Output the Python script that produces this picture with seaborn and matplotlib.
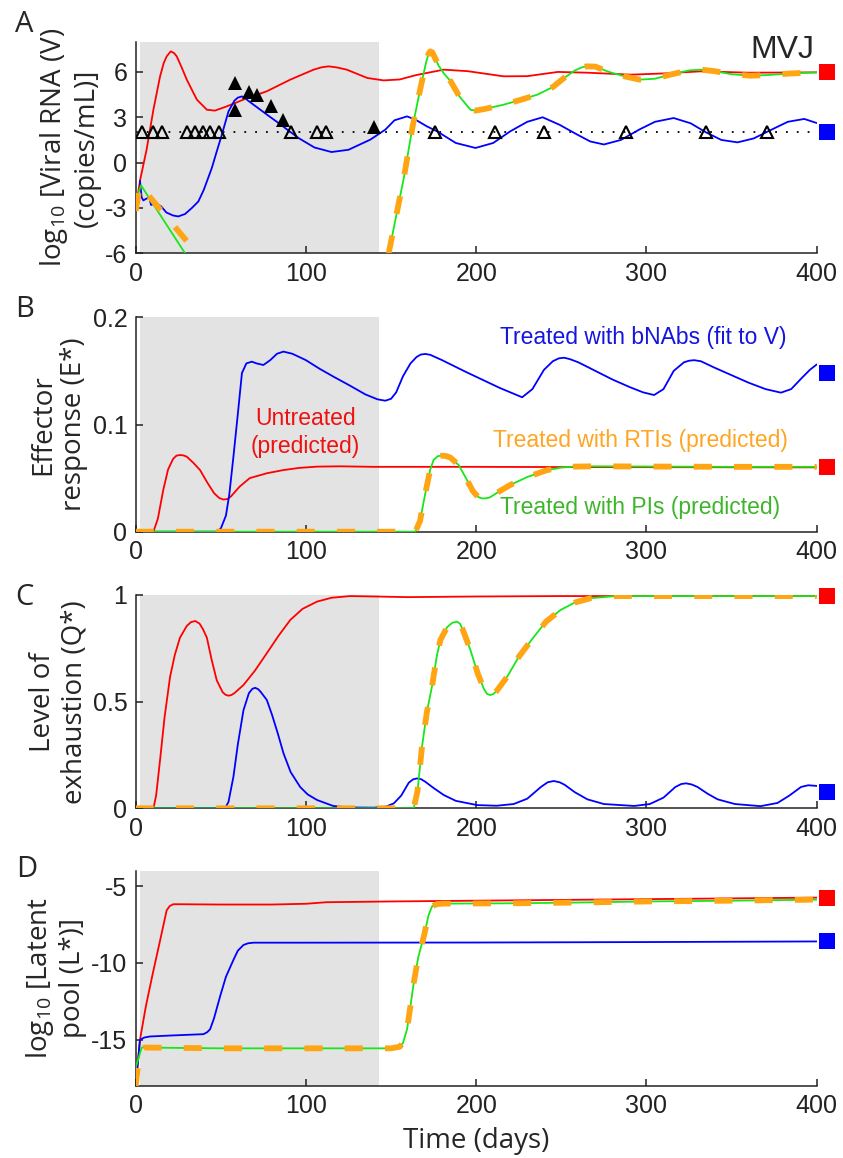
import numpy as np
import pandas as pd
import matplotlib
matplotlib.use("Agg")
import matplotlib.pyplot as plt
import seaborn as sns

# ---------------- data ----------------
# Panel A: log10 viral RNA
a_red_t = [0, 2.5, 6.4, 10.4, 14.3, 16.5, 18.2, 20.6, 22.5, 24.1, 27, 30, 35.9, 41.8, 46.5, 53.5,
           63.3, 77, 90.8, 104.5, 109, 113.3, 118, 124, 136, 145.6, 155, 165, 181, 195, 216, 230,
           248, 265, 291, 310, 332, 360, 400]
a_red_v = [-3.1, -1.2, 0.86, 3.5, 5.7, 6.6, 7.03, 7.36, 7.25, 7.03, 6.3, 5.49, 4.17, 3.5, 3.44, 3.72,
           4.17, 4.72, 5.49, 6.15, 6.3, 6.37, 6.3, 6.15, 5.6, 5.44, 5.5, 5.8, 6.15, 6.05, 5.71, 5.72,
           6.0, 5.95, 5.82, 5.9, 6.04, 5.95, 5.97]

a_blue_t = [2.5, 3.5, 4.5, 6, 8, 9, 12, 15, 18, 22, 25, 29, 33, 36.8, 40, 44.7, 47.5, 50.6, 54.5, 58,
            60, 62.4, 64, 66, 72, 78, 83.9, 90, 95.6, 105, 115, 125, 137.8, 146.6, 152, 159.4, 165,
            171, 177, 188, 199.6, 210, 220, 230, 239, 249, 259.4, 267, 275, 285, 296, 305, 316, 326,
            335, 344, 353.5, 363, 372, 383, 392.7, 400]
a_blue_v = [-1.2, -2.3, -2.5, -2.4, -2.3, -2.8, -2.7, -2.9, -3.3, -3.5, -3.56, -3.4, -3.0, -2.57, -1.8,
            -0.36, 0.7, 1.85, 3.39, 4.1, 4.3, 4.38, 4.3, 4.1, 3.6, 3.1, 2.62, 2.1, 1.63, 1.0, 0.7,
            0.85, 1.52, 2.18, 2.8, 3.06, 2.8, 2.4, 2.07, 1.3, 0.97, 1.3, 2.07, 2.7, 3.0, 2.5, 1.85,
            1.4, 1.2, 1.5, 2.2, 2.7, 2.95, 2.6, 2.0, 1.5, 1.34, 1.6, 2.1, 2.7, 2.89, 2.62]

a_pi_early_t = [0, 0.6, 3.1, 29]
a_pi_early_v = [-3.2, -2.35, -1.5, -6.0]
a_rti_early_t = [0, 2.5, 36]
a_rti_early_v = [-3.2, -1.5, -6.0]
a_rebound_t = [148.6, 157.5, 162.5, 167, 170.5, 172, 173, 174.2, 175.5, 178, 181, 185, 190, 196.6,
               199.6, 205, 216, 226, 236, 245, 251.6, 258, 262, 265, 270, 278, 287, 296, 305, 315,
               325, 332, 340, 350, 361, 372, 385, 400]
a_rebound_v = [-6.0, -1.0, 2.3, 4.8, 6.6, 7.2, 7.36, 7.3, 7.0, 6.4, 5.9, 5.38, 4.4, 3.5, 3.44, 3.55,
               3.83, 4.15, 4.5, 5.0, 5.6, 6.1, 6.3, 6.37, 6.35, 6.0, 5.71, 5.49, 5.55, 5.85, 6.1,
               6.15, 6.05, 5.85, 5.75, 5.8, 5.9, 5.97]

detect_limit = 2.0
obs_below_t = [3.5, 10, 15.5, 30, 35, 39.5, 43.5, 49, 91, 106.5, 112, 176, 211, 240, 288, 335, 371]
obs_above_t = [58.4, 58.4, 66.3, 71.2, 79.4, 86.8, 139.8]
obs_above_v = [5.27, 3.5, 4.68, 4.5, 3.72, 2.84, 2.33]

# Panel B: effector response
b_red_t = [0, 10.4, 13, 16.2, 19, 22, 24, 26, 28, 30, 34, 37.8, 42, 46, 49, 51.5, 54, 56, 61, 67,
           77, 86.8, 96, 106.5, 120, 140, 170, 200, 250, 300, 400]
b_red_v = [0, 0, 0.012, 0.039, 0.058, 0.068, 0.071, 0.0715, 0.0712, 0.07, 0.064, 0.0575, 0.046,
           0.036, 0.0315, 0.030, 0.0305, 0.033, 0.042, 0.05, 0.0545, 0.0575, 0.0595, 0.0607, 0.061,
           0.0605, 0.0605, 0.0605, 0.0603, 0.0602, 0.060]
b_blue_t = [0, 47.6, 50, 53, 55, 57.4, 60, 62.4, 65, 68.2, 71, 75, 79, 83, 86.8, 92, 100, 108, 116.2,
            125, 135, 142, 146.6, 150, 153, 157, 161.4, 165, 167.5, 170.2, 173, 180, 194, 214, 227,
            233, 239.8, 245, 248.5, 251.6, 255, 260, 270, 280, 290, 298, 304.5, 310, 316, 322, 325,
            328, 332, 340, 350, 360, 370, 379, 385, 391, 396, 400]
b_blue_v = [0, 0, 0.003, 0.015, 0.035, 0.07, 0.11, 0.148, 0.157, 0.1586, 0.157, 0.1555, 0.16, 0.166,
            0.168, 0.166, 0.16, 0.152, 0.1446, 0.137, 0.128, 0.1235, 0.1222, 0.124, 0.13, 0.145,
            0.157, 0.163, 0.1653, 0.1658, 0.165, 0.16, 0.149, 0.134, 0.1254, 0.133, 0.151, 0.159,
            0.1617, 0.1623, 0.161, 0.158, 0.15, 0.142, 0.135, 0.13, 0.1275, 0.133, 0.150, 0.158,
            0.1595, 0.16, 0.159, 0.153, 0.146, 0.139, 0.133, 0.1297, 0.133, 0.143, 0.151, 0.156]
b_treat_t = [0, 164.3, 167, 170, 173, 175, 177.5, 180, 182.5, 185, 189.8, 194, 198, 201, 203.5, 206,
             208, 214, 220, 230, 241.7, 250, 257, 270, 300, 350, 400]
b_treat_v = [0, 0, 0.01, 0.035, 0.058, 0.067, 0.0705, 0.0709, 0.0705, 0.069, 0.062, 0.05, 0.038,
             0.0325, 0.031, 0.0312, 0.032, 0.038, 0.0436, 0.051, 0.0575, 0.0598, 0.0607, 0.061,
             0.0608, 0.0605, 0.0605]

# Panel C: level of exhaustion
c_red_t = [0, 10.4, 12, 14.3, 17, 20.2, 23, 26, 30, 32.5, 35, 37.5, 39.5, 41.8, 44.5, 47.6, 51, 52.8,
           54.5, 56.2, 58, 63.3, 70, 77, 84, 90.8, 98, 106.5, 115, 126, 140, 160, 200, 250, 300, 400]
c_red_v = [0, 0, 0.06, 0.226, 0.43, 0.617, 0.72, 0.80, 0.855, 0.873, 0.878, 0.866, 0.84, 0.80, 0.70,
           0.60, 0.545, 0.532, 0.528, 0.531, 0.54, 0.578, 0.645, 0.727, 0.81, 0.883, 0.935, 0.969,
           0.987, 0.995, 0.993, 0.99, 0.993, 0.995, 0.995, 0.995]
c_blue_t = [0, 52.5, 54.5, 57.4, 60, 63.3, 66.5, 68.5, 70.2, 72, 73.5, 77, 80, 83.5, 86.8, 91, 96.6,
            101, 106.5, 116, 125, 140, 147, 151.6, 156, 160.4, 163, 165.3, 167.5, 170, 175, 181, 188,
            200.6, 212, 222, 230, 238, 242, 245.6, 249, 252, 258, 265.3, 275, 292.8, 302, 310, 317,
            320.5, 323.2, 326.5, 330, 336, 341.8, 352, 367, 377, 384, 390.8, 395, 400]
c_blue_v = [0, 0, 0.03, 0.148, 0.3, 0.46, 0.54, 0.56, 0.565, 0.558, 0.545, 0.508, 0.44, 0.35, 0.258,
            0.17, 0.10, 0.065, 0.039, 0.011, 0.004, 0.003, 0.008, 0.023, 0.06, 0.12, 0.136, 0.14,
            0.137, 0.125, 0.095, 0.062, 0.035, 0.015, 0.012, 0.02, 0.045, 0.1, 0.122, 0.128, 0.122,
            0.11, 0.075, 0.042, 0.02, 0.011, 0.02, 0.05, 0.1, 0.114, 0.117, 0.112, 0.1, 0.068, 0.042,
            0.02, 0.01, 0.025, 0.06, 0.10, 0.108, 0.105]
c_treat_t = [0, 163.3, 165.5, 168.2, 171, 174, 177, 179, 183, 186, 188.8, 190.5, 192, 196.6, 201,
             204.5, 206.3, 208, 210, 212, 218.2, 225, 233.9, 241, 249.6, 258, 267.2, 282, 300, 400]
c_treat_v = [0, 0, 0.08, 0.29, 0.45, 0.57, 0.72, 0.79, 0.85, 0.87, 0.875, 0.865, 0.84, 0.742, 0.63,
             0.56, 0.537, 0.531, 0.535, 0.55, 0.617, 0.71, 0.804, 0.875, 0.93, 0.965, 0.985, 0.995,
             0.995, 0.995]

# Panel D: log10 latent pool
d_red_t = [0, 2.5, 6, 10, 14, 18.2, 20, 22, 25, 50, 80, 100, 112, 150, 200, 300, 400]
d_red_v = [-18, -15, -12.8, -10.7, -8.7, -6.57, -6.3, -6.18, -6.18, -6.2, -6.2, -6.15, -6.05, -6.0,
           -5.95, -5.85, -5.75]
d_blue_t = [0, 2.5, 5, 8.4, 20, 39.8, 42, 43.7, 46, 49.6, 53, 57.4, 60, 63.3, 66, 69.2, 100, 200,
            300, 400]
d_blue_v = [-18, -15, -14.85, -14.78, -14.72, -14.63, -14.5, -14.31, -13.6, -12.16, -10.9, -9.8,
            -9.2, -8.83, -8.72, -8.68, -8.68, -8.67, -8.64, -8.6]
d_rti_t = [0, 1, 3, 5, 50, 100, 150, 155, 157, 159.4, 161.5, 163.3, 166, 169.2, 172, 174.1, 177, 181,
           220, 260, 300, 350, 400]
d_rti_v = [-18, -17, -15.6, -15.5, -15.55, -15.55, -15.55, -15.45, -15.2, -14.3, -12.7, -11.3, -9.6,
           -8.3, -6.9, -6.31, -6.17, -6.14, -6.12, -6.07, -6.0, -5.95, -5.88]
d_pi_t = [0, 3.5] + d_rti_t[3:]
d_pi_v = [-16.8, -15.5] + d_rti_v[3:]

# Long-term steady states (square markers beyond day 400)
steady_day = 406
steady_red = [6.0, 0.060, 0.995, -5.8]
steady_blue = [2.0, 0.148, 0.075, -8.6]

# Treatment window (shaded)
window = (2.5, 143)

# ---------------- style ----------------
RED = "#ff0000"
BLUE = "#0000ff"
GREEN = "#19e619"
ORANGE = "#ffa514"

sns.set_style("ticks")
plt.rcParams["font.family"] = ["Liberation Sans", "DejaVu Sans"]
plt.rcParams["axes.unicode_minus"] = False
plt.rcParams["mathtext.fontset"] = "custom"
plt.rcParams["mathtext.rm"] = "Open Sans"
plt.rcParams["mathtext.it"] = "Open Sans:italic"
plt.rcParams["mathtext.bf"] = "Open Sans:bold"

LABEL_FONT = dict(fontfamily="Open Sans", fontsize=20)

fig = plt.figure(figsize=(8.43, 11.58), dpi=100)
W, H = 843.0, 1158.0
left_px, right_px = 135.7, 816.7
rows_px = [(41.7, 253.3), (317.3, 531.7), (595.0, 808.3), (870.7, 1086.0)]
axes = []
for top, bot in rows_px:
    ax = fig.add_axes([left_px / W, 1 - bot / H, (right_px - left_px) / W, (bot - top) / H])
    axes.append(ax)


def line(ax, t, v, color, lw=1.3, **kw):
    df = pd.DataFrame({"t": t, "v": v})
    sns.lineplot(data=df, x="t", y="v", ax=ax, color=color, linewidth=lw,
                 estimator=None, sort=False, **kw)


def dashed(ax, t, v):
    line(ax, t, v, ORANGE, lw=4.2, linestyle=(0, (3.1, 3.8)), dash_capstyle="butt", zorder=4)


def finish(ax, ylim, yticks, yticklabels, ylabel):
    ax.axvspan(*window, color="#e3e3e3", lw=0, zorder=0)
    ax.set_xlim(0, 400)
    ax.set_ylim(*ylim)
    ax.set_xticks([0, 100, 200, 300, 400])
    ax.set_yticks(yticks)
    ax.set_yticklabels(yticklabels)
    ax.tick_params(direction="in", length=5, width=1.1, labelsize=18, pad=6, colors="#222222")
    ax.set_xlabel("")
    ax.set_ylabel(ylabel, labelpad=3, linespacing=1.15, **LABEL_FONT)
    for s in ("left", "bottom"):
        ax.spines[s].set_linewidth(1.1)
        ax.spines[s].set_color("#222222")
    sns.despine(ax=ax)


def squares(ax, i):
    ax.plot([steady_day], [steady_red[i]], "s", color=RED, ms=12, mew=0, clip_on=False, zorder=6)
    ax.plot([steady_day], [steady_blue[i]], "s", color=BLUE, ms=12, mew=0, clip_on=False, zorder=6)


# ---- A ----
ax = axes[0]
ax.plot([0, 400], [detect_limit, detect_limit], color="black", lw=1.3,
        linestyle=(0, (1, 5)), zorder=2)
line(ax, a_red_t, a_red_v, RED, zorder=3)
line(ax, a_blue_t, a_blue_v, BLUE, zorder=3)
line(ax, a_pi_early_t, a_pi_early_v, GREEN, zorder=3)
line(ax, a_rebound_t, a_rebound_v, GREEN, zorder=3)
dashed(ax, a_rti_early_t, a_rti_early_v)
dashed(ax, a_rebound_t, a_rebound_v)
ax.plot(obs_below_t, [detect_limit] * len(obs_below_t), "^", ms=9, mfc="none", mec="black",
        mew=1.5, zorder=5, linestyle="none")
ax.plot(obs_above_t, obs_above_v, "^", ms=10.5, color="black", mew=0, zorder=5, linestyle="none")
squares(ax, 0)
ax.text(380, 6.93, "MVJ", fontsize=23, ha="center", va="baseline")
finish(ax, (-6, 8), [-6, -3, 0, 3, 6], ["-6", "-3", "0", "3", "6"],
       "log$_{10}$ [Viral RNA (V)\n(copies/mL)]")

# ---- B ----
ax = axes[1]
line(ax, b_red_t, b_red_v, RED, zorder=3)
line(ax, b_blue_t, b_blue_v, BLUE, zorder=3)
line(ax, b_treat_t, b_treat_v, GREEN, zorder=3)
dashed(ax, b_treat_t, b_treat_v)
squares(ax, 1)
ax.text(99.6, 0.0995, "Untreated", color="#ee1111", fontsize=16.5, ha="center", va="baseline")
ax.text(99.6, 0.0731, "(predicted)", color="#ee1111", fontsize=16.5, ha="center", va="baseline")
ax.text(298, 0.1751, "Treated with bNAbs (fit to V)", color="#1515e0", fontsize=16.5,
        ha="center", va="baseline")
ax.text(296.6, 0.0787, "Treated with RTIs (predicted)", color="#ffa522", fontsize=16.5,
        ha="center", va="baseline")
ax.text(296, 0.0165, "Treated with PIs (predicted)", color="#3db52a", fontsize=16.5,
        ha="center", va="baseline")
finish(ax, (0, 0.2), [0, 0.1, 0.2], ["0", "0.1", "0.2"], "Effector\nresponse (E*)")

# ---- C ----
ax = axes[2]
line(ax, c_red_t, c_red_v, RED, zorder=3)
line(ax, c_blue_t, c_blue_v, BLUE, zorder=3)
line(ax, c_treat_t, c_treat_v, GREEN, zorder=3)
dashed(ax, c_treat_t, c_treat_v)
squares(ax, 2)
finish(ax, (0, 1), [0, 0.5, 1], ["0", "0.5", "1"], "Level of\nexhaustion (Q*)")

# ---- D ----
ax = axes[3]
line(ax, d_red_t, d_red_v, RED, zorder=3)
line(ax, d_blue_t, d_blue_v, BLUE, zorder=3)
line(ax, d_pi_t, d_pi_v, GREEN, zorder=3)
dashed(ax, d_rti_t, d_rti_v)
squares(ax, 3)
finish(ax, (-18, -4), [-15, -10, -5], ["-15", "-10", "-5"], "log$_{10}$ [Latent\npool (L*)]")
ax.set_xlabel("Time (days)", labelpad=6, **LABEL_FONT)

# panel letters
for letter, (x_px, base_px) in zip("ABCD", [(15, 31.7), (15, 316.7), (15, 605), (16, 876.7)]):
    fig.text(x_px / W, 1 - base_px / H, letter, fontfamily="Open Sans", fontsize=21,
             ha="left", va="baseline")

fig.savefig("out.png", dpi=100)
